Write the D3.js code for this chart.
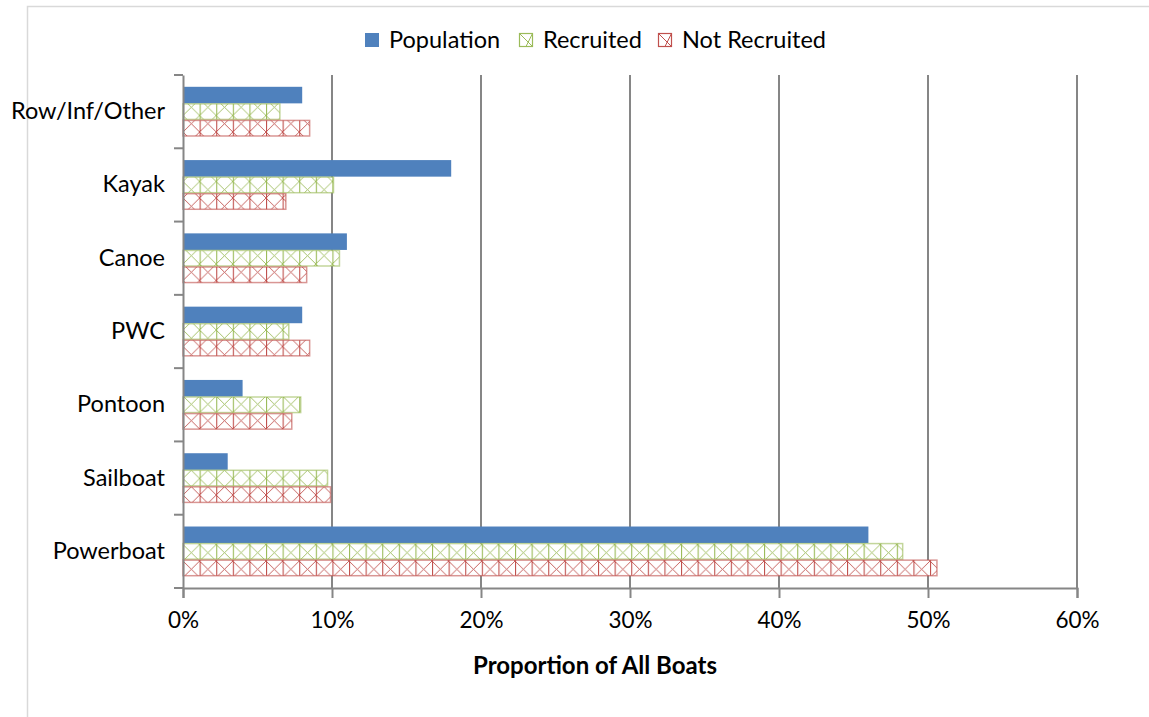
<!DOCTYPE html>
<html>
<head>
<meta charset="utf-8">
<script src="https://cdn.jsdelivr.net/npm/d3@7"></script>
<style>
  body { margin: 0; background: #fff; }
  text { font-family: Lato, "Open Sans", sans-serif; fill: #000; }
</style>
</head>
<body>
<svg id="chart"></svg>
<script>
const categories = ['Row/Inf/Other', 'Kayak', 'Canoe', 'PWC', 'Pontoon', 'Sailboat', 'Powerboat']
const seriesNames = ['Population', 'Recruited', 'Not Recruited']
const population = [8.0, 18.0, 11.0, 8.0, 4.0, 3.0, 46.0]
const recruited = [6.5, 10.1, 10.5, 7.1, 7.9, 9.7, 48.3]
const notRecruited = [8.5, 6.9, 8.3, 8.5, 7.3, 9.9, 50.6]
const xTicks = [0, 10, 20, 30, 40, 50, 60]

const seriesValues = [population, recruited, notRecruited]
const colors = ['#4f81bd', '#9bbb59', '#c0504d']

const svgWidth = 1149
const svgHeight = 717
const margin = { top: 75, right: 72, bottom: 129, left: 183 }

const svg = d3.select('#chart')
    .attr('width', svgWidth)
    .attr('height', svgHeight)

// chart area frame (only left and top visible)
svg.append('rect')
    .attr('x', 27.5).attr('y', 6.5)
    .attr('width', svgWidth + 20).attr('height', svgHeight + 20)
    .attr('fill', 'none')
    .attr('stroke', '#d9d9d9')
    .attr('stroke-width', 1.5)

// hatch patterns: boxes with an X
const defs = svg.append('defs')
const cellW = 16.6
const barH = 16.5
seriesNames.slice(1).forEach((name, k) => {
    const c = colors[k + 1]
    const p = defs.append('pattern')
        .attr('id', `hatch-${k + 1}`)
        .attr('patternUnits', 'userSpaceOnUse')
        .attr('x', margin.left)
        .attr('width', cellW)
        .attr('height', barH)
    p.append('rect').attr('width', cellW).attr('height', barH).attr('fill', '#fff')
    p.append('line').attr('x1', 0.5).attr('y1', 0).attr('x2', 0.5).attr('y2', barH)
        .attr('stroke', c).attr('stroke-width', 1.2)
    p.append('line').attr('x1', 0).attr('y1', 0).attr('x2', cellW).attr('y2', barH)
        .attr('stroke', c).attr('stroke-width', 0.9)
    p.append('line').attr('x1', cellW).attr('y1', 0).attr('x2', 0).attr('y2', barH)
        .attr('stroke', c).attr('stroke-width', 0.9)
})

const x = d3.scaleLinear()
    .domain([0, 60])
    .range([margin.left, svgWidth - margin.right])

const y = d3.scaleBand()
    .domain(categories)
    .range([margin.top, svgHeight - margin.bottom])
    .padding(0)

const gap = 11.8
const ySub = d3.scaleBand()
    .domain(seriesNames)
    .range([gap, y.bandwidth() - gap])

// vertical gridlines
svg.append('g')
    .selectAll('line')
    .data(xTicks.slice(1))
    .join('line')
    .attr('x1', d => x(d)).attr('x2', d => x(d))
    .attr('y1', margin.top).attr('y2', svgHeight - margin.bottom)
    .attr('stroke', '#868686')
    .attr('stroke-width', 2)

// bars
categories.forEach((cat, i) => {
    seriesNames.forEach((s, k) => {
        const v = seriesValues[k][i]
        const yy = y(cat) + ySub(s)
        const h = ySub.bandwidth()
        if (k === 0) {
            svg.append('rect')
                .attr('x', x(0)).attr('y', yy)
                .attr('width', x(v) - x(0)).attr('height', h)
                .attr('fill', colors[0])
        } else {
            svg.append('rect')
                .attr('x', x(0)).attr('y', yy + 0.5)
                .attr('width', x(v) - x(0)).attr('height', h - 1)
                .attr('fill', `url(#hatch-${k})`)
                .attr('stroke', colors[k])
                .attr('stroke-opacity', 0.6)
                .attr('stroke-width', 1.5)
        }
    })
})

// x axis
const xAxis = d3.axisBottom(x)
    .tickValues(xTicks)
    .tickFormat(d => d + '%')
    .tickSize(10)
    .tickPadding(14)
const gx = svg.append('g')
    .attr('transform', `translate(0,${svgHeight - margin.bottom})`)
    .call(xAxis)
gx.select('.domain').attr('stroke', '#868686').attr('stroke-width', 2)
gx.selectAll('.tick line').attr('stroke', '#868686').attr('stroke-width', 2)
gx.selectAll('.tick text').attr('font-size', 22.5).attr('font-family', 'Lato').attr('fill', '#000')

// y axis
const gy = svg.append('g')
    .attr('transform', `translate(${margin.left},0)`)
    .call(d3.axisLeft(y).tickSize(0).tickPadding(18))
gy.select('.domain').attr('stroke', '#868686').attr('stroke-width', 2)
gy.selectAll('.tick text').attr('font-size', 23.5).attr('font-family', 'Lato').attr('fill', '#000')

// y category boundary ticks
const bounds = categories.map(c => y(c)).concat([y(categories[categories.length - 1]) + y.bandwidth()])
svg.append('g')
    .selectAll('line')
    .data(bounds)
    .join('line')
    .attr('x1', margin.left - 9).attr('x2', margin.left)
    .attr('y1', d => d).attr('y2', d => d)
    .attr('stroke', '#868686')
    .attr('stroke-width', 2)

// x title
svg.append('text')
    .attr('x', 595).attr('y', 674)
    .attr('text-anchor', 'middle')
    .attr('font-size', 24)
    .attr('font-weight', 'bold')
    .text('Proportion of All Boats')

// legend
const legendX = [365, 519, 658]
const legend = svg.append('g')
seriesNames.forEach((s, k) => {
    const g = legend.append('g').attr('transform', `translate(${legendX[k]},33)`)
    if (k === 0) {
        g.append('rect').attr('width', 14).attr('height', 14).attr('fill', colors[0])
    } else {
        g.append('rect').attr('x', 0.5).attr('y', 0.5).attr('width', 13).attr('height', 13)
            .attr('fill', '#fff').attr('stroke', colors[k]).attr('stroke-width', 1.2)
        g.append('line').attr('x1', 0.5).attr('y1', 0.5).attr('x2', 13.5).attr('y2', 13.5)
            .attr('stroke', colors[k]).attr('stroke-width', 1)
        g.append('line').attr('x1', 13.5).attr('y1', 0.5).attr('x2', 7).attr('y2', 13.5)
            .attr('stroke', colors[k]).attr('stroke-width', 1)
    }
    g.append('text')
        .attr('x', 24).attr('y', 7)
        .attr('dy', '0.35em')
        .attr('font-size', 23.5)
        .text(s)
})
</script>
</body>
</html>
